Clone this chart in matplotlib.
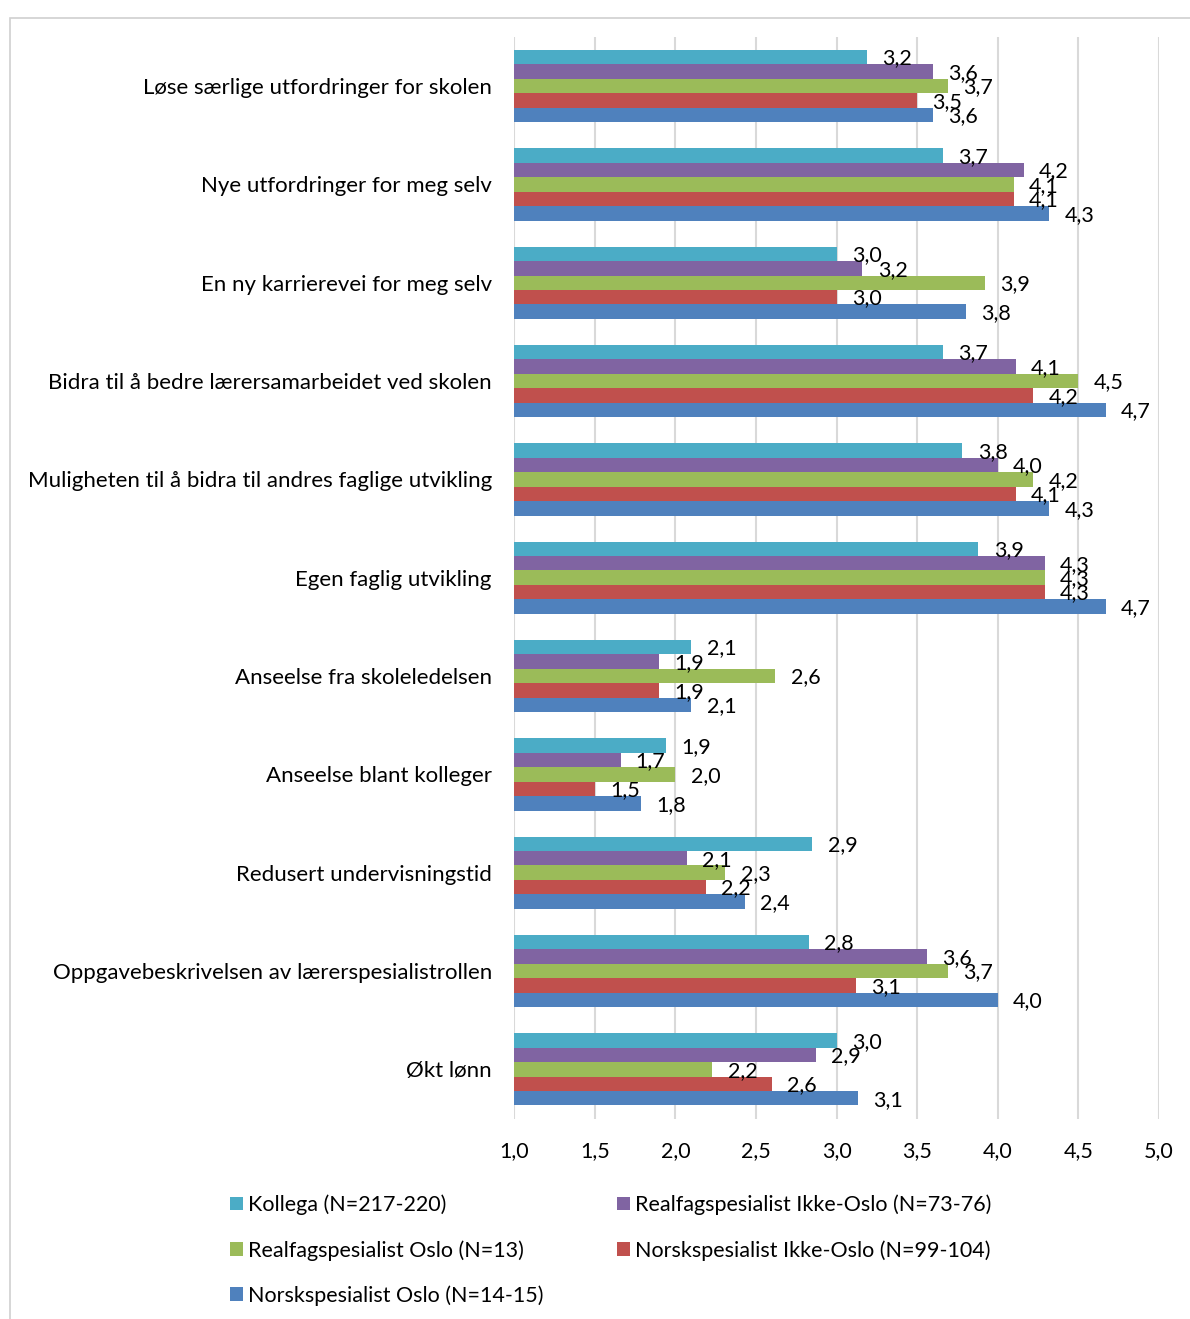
import numpy as np
import matplotlib.pyplot as plt
from matplotlib.patches import Rectangle

plt.rcParams['font.family'] = ['Lato', 'DejaVu Sans']

categories = ['Løse særlige utfordringer for skolen',
              'Nye utfordringer for meg selv',
              'En ny karrierevei for meg selv',
              'Bidra til å bedre lærersamarbeidet ved skolen',
              'Muligheten til å bidra til andres faglige utvikling',
              'Egen faglig utvikling',
              'Anseelse fra skoleledelsen',
              'Anseelse blant kolleger',
              'Redusert undervisningstid',
              'Oppgavebeskrivelsen av lærerspesialistrollen',
              'Økt lønn']

series = ['Kollega (N=217-220)',
          'Realfagspesialist Ikke-Oslo (N=73-76)',
          'Realfagspesialist Oslo (N=13)',
          'Norskspesialist Ikke-Oslo (N=99-104)',
          'Norskspesialist Oslo (N=14-15)']

kollega = [3.19, 3.66, 3.00, 3.66, 3.78, 3.88, 2.10, 1.94, 2.85, 2.83, 3.00]
realfag_ikke_oslo = [3.60, 4.16, 3.16, 4.11, 4.00, 4.29, 1.90, 1.66, 2.07, 3.56, 2.87]
realfag_oslo = [3.69, 4.10, 3.92, 4.50, 4.22, 4.29, 2.62, 2.00, 2.31, 3.69, 2.23]
norsk_ikke_oslo = [3.50, 4.10, 3.00, 4.22, 4.11, 4.29, 1.90, 1.50, 2.19, 3.12, 2.60]
norsk_oslo = [3.60, 4.32, 3.80, 4.67, 4.32, 4.67, 2.10, 1.79, 2.43, 4.00, 3.13]

colors = ['#4BACC6', '#8064A2', '#9BBB59', '#C0504D', '#4F81BD']

fig = plt.figure(figsize=(11.9, 13.19), dpi=100)
ax = fig.add_axes([0.432, 0.152, 0.542, 0.820])

# chart border (cut off at right and bottom like the source)
fig.patches.append(Rectangle((10 / 1190, -0.05), 1.2, 1 - 18 / 1319 + 0.05,
                             transform=fig.transFigure, fill=False,
                             edgecolor='#d0d0d0', linewidth=1.2))

y = np.arange(len(categories))
h = 0.147
all_vals = [kollega, realfag_ikke_oslo, realfag_oslo, norsk_ikke_oslo, norsk_oslo]
bars = []
for i, (vals, col, name) in enumerate(zip(all_vals, colors, series)):
    pos = y + (i - 2) * h
    b = ax.barh(pos, np.array(vals) - 1, left=1, height=h, color=col,
                label=name, zorder=3)
    bars.append(b)
    for p, v in zip(pos, vals):
        ax.annotate(f'{v:.1f}'.replace('.', ','), (v, p), xytext=(11, -1),
                    textcoords='offset points', va='center', ha='left',
                    fontsize=15.5, zorder=4)

ax.set_ylim(len(categories) - 0.5, -0.5)
ax.set_xlim(1, 5)
ax.set_xticks(np.arange(1, 5.01, 0.5))
ax.set_xticklabels([f'{t:.1f}'.replace('.', ',') for t in np.arange(1, 5.01, 0.5)])
ax.set_yticks(y)
ax.set_yticklabels(categories)
ax.tick_params(axis='y', length=0, pad=16, labelsize=16)
ax.tick_params(axis='x', length=0, pad=16, labelsize=15.5)
ax.grid(axis='x', color='#d9d9d9', linewidth=1.5, zorder=0)
for s in ax.spines.values():
    s.set_visible(False)

order = [0, 2, 4, 1, 3]
fig.legend([bars[i] for i in order], [series[i] for i in order],
           loc='upper left', bbox_to_anchor=(0.177, 0.109), ncol=2,
           frameon=False, fontsize=15.5, handlelength=0.6, handleheight=0.6,
           handletextpad=0.25, columnspacing=3.4, labelspacing=1.15)

fig.savefig('out.png', dpi=100)
